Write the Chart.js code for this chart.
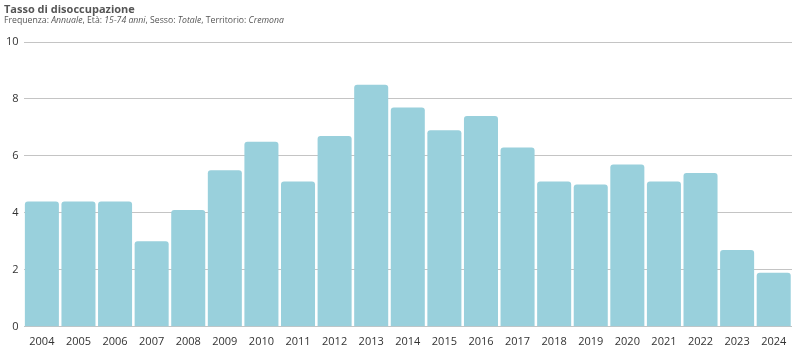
<!DOCTYPE html>
<html>
<head>
<meta charset="utf-8">
<script src="https://cdn.jsdelivr.net/npm/chart.js@4/dist/chart.umd.min.js"></script>
<style>
  html, body { margin: 0; padding: 0; background: #fff; }
  #wrap { position: relative; width: 800px; height: 356px; }
  #c { position: absolute; left: 0; top: 0; }
  .hdr { position: absolute; left: 4px; font-family: "Open Sans", sans-serif; color: #555; white-space: nowrap; }
  #t1 { top: 1px; font-weight: bold; font-size: 11px; }
  #t2 { top: 14px; font-size: 8.7px; }
</style>
</head>
<body>
<div id="wrap">
  <canvas id="c" width="800" height="356"></canvas>
  <div class="hdr" id="t1">Tasso di disoccupazione</div>
  <div class="hdr" id="t2">Frequenza: <i>Annuale</i>, Età: <i>15-74 anni</i>, Sesso: <i>Totale</i>, Territorio: <i>Cremona</i></div>
</div>
<script>
const years = ["2004","2005","2006","2007","2008","2009","2010","2011","2012","2013","2014","2015","2016","2017","2018","2019","2020","2021","2022","2023","2024"];
const unemploymentRate = [4.4,4.4,4.4,3.0,4.1,5.5,6.5,5.1,6.7,8.5,7.7,6.9,7.4,6.3,5.1,5.0,5.7,5.1,5.4,2.7,1.9];
const yTicks = [0,2,4,6,8,10];

new Chart(document.getElementById('c'), {
  type: 'bar',
  data: {
    labels: years,
    datasets: [{
      label: 'Tasso di disoccupazione',
      data: unemploymentRate,
      backgroundColor: '#99d0dc',
      borderWidth: 0,
      borderRadius: { topLeft: 3, topRight: 3, bottomLeft: 0, bottomRight: 0 },
      borderSkipped: 'bottom',
      barPercentage: 0.93,
      categoryPercentage: 1.0
    }]
  },
  options: {
    responsive: false,
    animation: false,
    layout: { padding: { top: 42, right: 8, left: 1, bottom: 8 } },
    plugins: { legend: { display: false }, tooltip: { enabled: false }, title: { display: false } },
    scales: {
      x: {
        offset: true,
        grid: { display: false },
        border: { display: false },
        ticks: { color: '#333', font: { family: 'Open Sans', size: 11 }, padding: 0, maxRotation: 0, autoSkip: false }
      },
      y: {
        min: 0, max: 10,
        afterBuildTicks: (ax) => { ax.ticks = yTicks.map(v => ({ value: v })); },
        grid: { color: '#c4c4c4', lineWidth: 1, drawTicks: false },
        border: { display: false },
        ticks: { color: '#333', font: { family: 'Open Sans', size: 11 }, padding: 5 }
      }
    }
  }
});
</script>
</body>
</html>
